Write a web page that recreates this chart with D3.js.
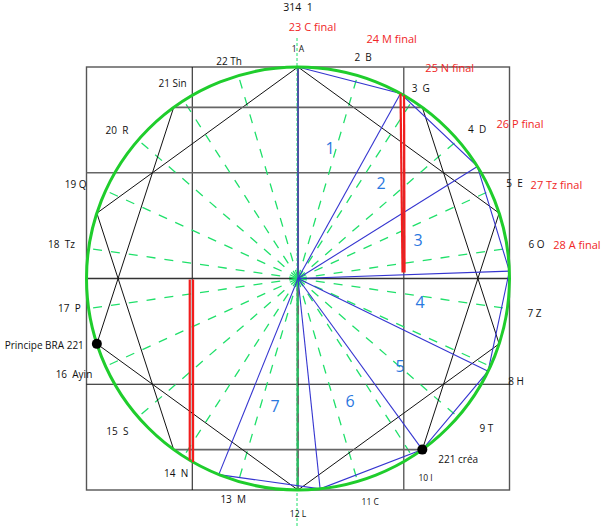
<!DOCTYPE html>
<html>
<head>
<meta charset="utf-8">
<script src="https://cdn.jsdelivr.net/npm/d3@7"></script>
<style>
  body { margin: 0; background: #fff; }
  svg text { font-family: "Open Sans", "Liberation Sans", sans-serif; white-space: pre; }
</style>
</head>
<body>
<svg id="chart" width="606" height="529"></svg>
<script>
// data

const letters = ['1 A', '2  B', '3  G', '4  D', '5  E', '6 O', '7 Z', '8 H', '9 T', '10 I', '11 C',
  '12 L', '13  M', '14  N', '15  S', '16  Ayin', '17  P', '18  Tz', '19 Q', '20  R', '21 Sin', '22 Th'];
const finals = ['23 C final', '24 M final', '25 N final', '26 P final', '27 Tz final', '28 A final'];
const sectorNames = ['1', '2', '3', '4', '5', '6', '7'];
// angles (deg, clockwise from top) of the blue division points
const blueAngles = [0, 29, 58, 88, 116, 144, 174, 202];
// decagon vertices, joined by skip-2 chords
const decagonAngles = [0, 36, 72, 108, 144, 180, 216, 252, 288, 324];
const dots = [{name: 'Principe BRA 221', angle: 252}, {name: '221 créa', angle: 144}];
const rayCount = 22;

// layout
const svg = d3.select('#chart');
const x = d3.scaleLinear().domain([-1, 1]).range([86.5, 509.5]);
const y = d3.scaleLinear().domain([1, -1]).range([67, 490]);
const cx = x(0), cy = y(0), R = x(1) - x(0);
const rad = a => a * Math.PI / 180;
const px = (a, r) => cx + r * Math.sin(rad(a));
const py = (a, r) => cy - r * Math.cos(rad(a));

// grid
svg.append('rect')
  .attr('x', x(-1)).attr('y', y(1))
  .attr('width', x(1) - x(-1)).attr('height', y(-1) - y(1))
  .attr('fill', 'none').attr('stroke', '#555').attr('stroke-width', 1.4);

const vGrid = [{v: -0.5, c: '#111', w: 1}, {v: 0, c: '#333', w: 1.4}, {v: 0.5, c: '#666', w: 1.5}];
svg.selectAll('.vgrid').data(vGrid).enter().append('line')
  .attr('x1', d => x(d.v)).attr('x2', d => x(d.v))
  .attr('y1', y(1)).attr('y2', y(-1))
  .attr('stroke', d => d.c).attr('stroke-width', d => d.w);

const hGrid = [{v: 0.5, c: '#666', w: 1.6}, {v: 0, c: '#333', w: 1.6}, {v: -0.5, c: '#111', w: 1}];
svg.selectAll('.hgrid').data(hGrid).enter().append('line')
  .attr('y1', d => y(d.v)).attr('y2', d => y(d.v))
  .attr('x1', x(-1)).attr('x2', x(1))
  .attr('stroke', d => d.c).attr('stroke-width', d => d.w);

// dashed rays
const rays = d3.range(rayCount).map(i => i * 360 / rayCount);
svg.selectAll('.ray').data(rays.slice(1)).enter().append('line')
  .attr('x1', cx).attr('y1', cy)
  .attr('x2', d => px(d, R - 2)).attr('y2', d => py(d, R - 2))
  .attr('stroke', '#1fe06a').attr('stroke-width', 1.3)
  .attr('stroke-dasharray', '9,9');
svg.append('line')
  .attr('x1', cx - 1).attr('x2', cx - 1).attr('y1', 38).attr('y2', 526)
  .attr('stroke', '#1fe06a').attr('stroke-width', 1).attr('stroke-dasharray', '3,2');
svg.append('line')
  .attr('x1', cx - 1).attr('x2', cx - 1).attr('y1', cy).attr('y2', y(-1))
  .attr('stroke', '#26b05a').attr('stroke-width', 1);

// black decagram
const chords = decagonAngles.map((a, i) => [a, decagonAngles[(i + 2) % 10]]);
const flat = d => Math.abs(py(d[0], R) - py(d[1], R)) < 1;
svg.selectAll('.chord').data(chords).enter().append('line')
  .attr('x1', d => px(d[0], R)).attr('y1', d => py(d[0], R))
  .attr('x2', d => px(d[1], R)).attr('y2', d => py(d[1], R))
  .attr('stroke', d => (flat(d) ? '#666' : '#111'))
  .attr('stroke-width', d => (flat(d) ? 1.6 : 1));

// blue division
svg.selectAll('.bray').data(blueAngles).enter().append('line')
  .attr('x1', cx).attr('y1', cy)
  .attr('x2', d => px(d, R)).attr('y2', d => py(d, R))
  .attr('stroke', '#3535d0').attr('stroke-width', 1.1);
svg.append('path')
  .attr('d', d3.line()(blueAngles.map(a => [px(a, R), py(a, R)])))
  .attr('fill', 'none').attr('stroke', '#3535d0').attr('stroke-width', 1.1);

// circle
svg.append('circle')
  .attr('cx', cx).attr('cy', cy).attr('r', R)
  .attr('fill', 'none').attr('stroke', '#1fcd2c').attr('stroke-width', 3);

// red measures
const redX = [px(blueAngles[1], R), x(-0.5)];
svg.append('line').attr('x1', redX[0]).attr('y1', py(blueAngles[1], R))
  .attr('x2', redX[0] + 2).attr('y2', cy - 6).attr('stroke', '#f21d1d').attr('stroke-width', 2.2);
svg.append('line').attr('x1', redX[0] + 3.5).attr('y1', py(blueAngles[1], R) + 2)
  .attr('x2', redX[0] + 4).attr('y2', cy - 6).attr('stroke', '#f21d1d').attr('stroke-width', 2.2);
[-2.5, 0.8].forEach(o => {
  const h = Math.sqrt(R * R - Math.pow(redX[1] + o - cx, 2));
  svg.append('line').attr('x1', redX[1] + o).attr('x2', redX[1] + o)
    .attr('y1', cy + 1).attr('y2', cy + h)
    .attr('stroke', '#f21d1d').attr('stroke-width', 2.2);
});

// dots
svg.selectAll('.dot').data(dots).enter().append('circle')
  .attr('cx', d => px(d.angle, R)).attr('cy', d => py(d.angle, R))
  .attr('r', 5).attr('fill', '#000');

// sector numbers
const sectorPos = [[330, 148], [381, 183], [418, 240], [420, 302], [400, 366], [350, 401], [275, 406]];
svg.selectAll('.sec').data(sectorNames).enter().append('text')
  .attr('x', (d, i) => sectorPos[i][0]).attr('y', (d, i) => sectorPos[i][1])
  .attr('text-anchor', 'middle').attr('dominant-baseline', 'central')
  .attr('font-size', 16).attr('fill', '#2a78df').text(d => d);

// letter labels around the circle
const labelR = [230, 231, 227, 233, 238, 241, 239, 242, 240, 236, 235,
  235, 230, 229, 235, 243, 230, 239, 240, 233, 232, 227];
const labelNudge = {3: [3, 3], 4: [0, 3], 7: [-2, 2], 8: [7, -8], 10: [6, -2], 13: [2, 2],
  14: [-3, -1], 15: [-3, -5], 16: [-1, -3], 18: [-4, 5], 19: [-5, 4], 21: [-5, 0]};
const smallLabels = [0, 9, 10, 11];
const nud = (i, k) => (labelNudge[i] ? labelNudge[i][k] : 0);
svg.selectAll('.lab').data(letters).enter().append('text')
  .attr('x', (d, i) => px(rays[i], labelR[i]) + nud(i, 0))
  .attr('y', (d, i) => py(rays[i], labelR[i]) + nud(i, 1))
  .attr('text-anchor', 'middle').attr('dominant-baseline', 'central')
  .attr('font-size', (d, i) => (smallLabels.includes(i) ? 8.5 : 10))
  .attr('fill', '#111').text(d => d);

// finals
const finalPos = [[3.3, 252], [21.3, 258], [35.7, 260], [55, 271], [70, 275], [83, 281]];
svg.selectAll('.fin').data(finals).enter().append('text')
  .attr('x', (d, i) => px(finalPos[i][0], finalPos[i][1]))
  .attr('y', (d, i) => py(finalPos[i][0], finalPos[i][1]))
  .attr('text-anchor', 'middle').attr('dominant-baseline', 'central')
  .attr('font-size', 11).attr('fill', '#f02626').text(d => d);

// other labels
svg.append('text').attr('x', cx).attr('y', 7)
  .attr('text-anchor', 'middle').attr('dominant-baseline', 'central')
  .attr('font-size', 10.5).attr('fill', '#111').text('314  1');
svg.selectAll('.dlab').data(dots).enter().append('text')
  .attr('x', d => (d.angle > 180 ? px(d.angle, R) - 13 : px(d.angle, R) + 16))
  .attr('y', d => py(d.angle, R) + (d.angle > 180 ? 1 : 9))
  .attr('text-anchor', d => (d.angle > 180 ? 'end' : 'start'))
  .attr('dominant-baseline', 'central')
  .attr('font-size', 10).attr('fill', '#111').text(d => d.name);
</script>
</body>
</html>
